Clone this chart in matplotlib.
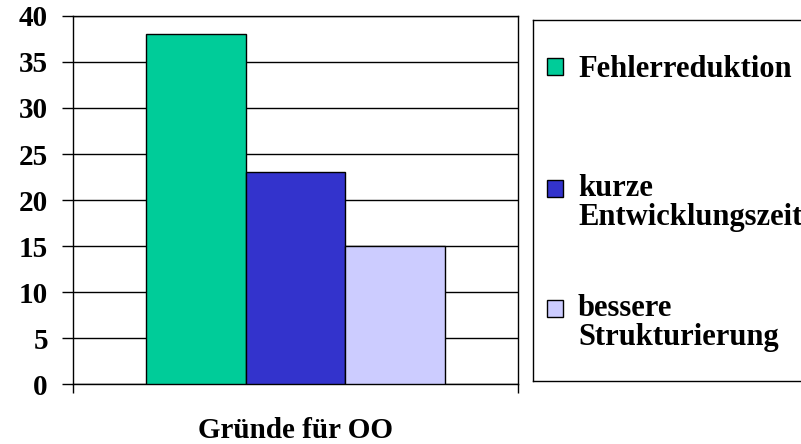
import matplotlib.pyplot as plt
from matplotlib.patches import Rectangle
from matplotlib.lines import Line2D

# data
series = ['Fehlerreduktion', 'kurze\nEntwicklungszeit', 'bessere\nStrukturierung']
values = [38, 23, 15]
colors = ['#00CC99', '#3333CC', '#CCCCFF']
category = 'Gründe für OO'

W, H = 801, 444
plt.rcParams['font.family'] = ['Liberation Serif', 'DejaVu Serif']
plt.rcParams['font.weight'] = 'bold'
fs = 21

fig = plt.figure(figsize=(W / 100, H / 100), dpi=100)
ax = fig.add_axes([73 / W, 1 - 384 / H, (518 - 73) / W, (384 - 16) / H])

xpos = list(range(len(values)))
ax.bar(xpos, values, width=1.0, color=colors, edgecolor='black', linewidth=1, zorder=3)

xmin, xmax = -1.235, 3.235
ax.set_xlim(xmin, xmax)
ax.set_ylim(0, 40)
ax.set_yticks(range(0, 41, 5))
ax.set_xticks([xmin, xmax])
ax.set_xticklabels(['', ''])
ax.tick_params(axis='y', direction='out', length=8, width=1, pad=10, labelsize=fs)
ax.tick_params(axis='x', direction='out', length=6.5, width=1)
ax.yaxis.grid(True, color='black', linewidth=1, zorder=0)
for s in ax.spines.values():
    s.set_linewidth(1)
    s.set_color('black')

fig.text(295 / W, 1 - 438 / H, category, ha='center', va='baseline', fontsize=fs, fontweight='bold')

# legend box (open on the right, runs past the figure edge)
bx0, by0, by1 = 533 / W, 1 - 381 / H, 1 - 20 / H
for xs, ys in [([bx0, 1.0], [by1, by1]), ([bx0, 1.0], [by0, by0]), ([bx0, bx0], [by0, by1])]:
    fig.lines.append(Line2D(xs, ys, transform=fig.transFigure, color='black', linewidth=1))
tops = [58, 180, 300]
for name, c, t in zip(series, colors, tops):
    fig.patches.append(Rectangle((547 / W, 1 - (t + 17) / H), 16 / W, 17 / H,
                                 transform=fig.transFigure, facecolor=c, edgecolor='black', linewidth=1))
    nlines = name.count('\n')
    fig.text(578 / W, 1 - (t + 19 + 26 * nlines) / H, name, ha='left', va='baseline',
             fontsize=22, fontweight='bold', linespacing=1.0)

fig.savefig('out.png', dpi=100)
